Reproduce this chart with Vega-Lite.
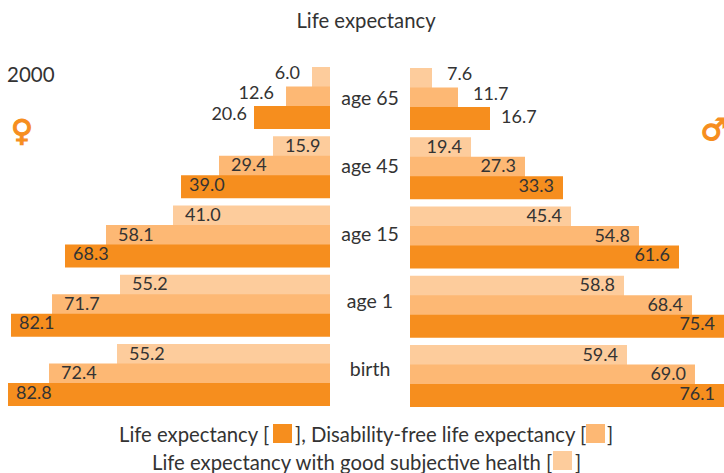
{
"$schema":"https://vega.github.io/schema/vega-lite/v6.json",
"width":724,"height":473,"padding":0,"autosize":"none",
"background":"white",
"title":{"text":"Life expectancy","anchor":"middle","frame":"group","font":"Lato","fontSize":20.3,"fontWeight":"normal","color":"#333333","dy":36,"dx":4},
"config":{"view":{"stroke":null},"text":{"font":"Lato","fontSize":18,"color":"#333333","baseline":"middle"}},
"datasets":{
"rows":[
{"sex":"female","age":"age 65","series":"good health","value":6.0,"drawn":4.63},
{"sex":"female","age":"age 65","series":"disability-free","value":12.6,"drawn":11.31},
{"sex":"female","age":"age 65","series":"life expectancy","value":20.6,"drawn":19.54},
{"sex":"female","age":"age 45","series":"good health","value":15.9,"drawn":14.66},
{"sex":"female","age":"age 45","series":"disability-free","value":29.4,"drawn":28.54},
{"sex":"female","age":"age 45","series":"life expectancy","value":39.0,"drawn":38.31},
{"sex":"female","age":"age 15","series":"good health","value":41.0,"drawn":40.37},
{"sex":"female","age":"age 15","series":"disability-free","value":58.1,"drawn":57.6},
{"sex":"female","age":"age 15","series":"life expectancy","value":68.3,"drawn":68.14},
{"sex":"female","age":"age 1","series":"good health","value":55.2,"drawn":54.0},
{"sex":"female","age":"age 1","series":"disability-free","value":71.7,"drawn":71.48},
{"sex":"female","age":"age 1","series":"life expectancy","value":82.1,"drawn":82.03},
{"sex":"female","age":"birth","series":"good health","value":55.2,"drawn":54.77},
{"sex":"female","age":"birth","series":"disability-free","value":72.4,"drawn":72.25},
{"sex":"female","age":"birth","series":"life expectancy","value":82.8,"drawn":82.8},
{"sex":"male","age":"age 65","series":"good health","value":7.6,"drawn":5.66},
{"sex":"male","age":"age 65","series":"disability-free","value":11.7,"drawn":12.34},
{"sex":"male","age":"age 65","series":"life expectancy","value":16.7,"drawn":20.57},
{"sex":"male","age":"age 45","series":"good health","value":19.4,"drawn":15.69},
{"sex":"male","age":"age 45","series":"disability-free","value":27.3,"drawn":29.57},
{"sex":"male","age":"age 45","series":"life expectancy","value":33.3,"drawn":39.34},
{"sex":"male","age":"age 15","series":"good health","value":45.4,"drawn":41.4},
{"sex":"male","age":"age 15","series":"disability-free","value":54.8,"drawn":58.88},
{"sex":"male","age":"age 15","series":"life expectancy","value":61.6,"drawn":69.17},
{"sex":"male","age":"age 1","series":"good health","value":58.8,"drawn":55.03},
{"sex":"male","age":"age 1","series":"disability-free","value":68.4,"drawn":72.51},
{"sex":"male","age":"age 1","series":"life expectancy","value":75.4,"drawn":80.74},
{"sex":"male","age":"birth","series":"good health","value":59.4,"drawn":55.8},
{"sex":"male","age":"birth","series":"disability-free","value":69.0,"drawn":73.28},
{"sex":"male","age":"birth","series":"life expectancy","value":76.1,"drawn":80.74}
]
},
"resolve":{"scale":{"x":"independent","y":"independent","yOffset":"independent"}},
"layer":[
{"data":{"name":"rows"},"transform":[{"filter":"datum.sex=='female'"}],
 "encoding":{
  "x":{"field":"drawn","type":"quantitative","axis":null,"stack":null,"scale":{"domain":[0,82.8],"range":[330,8],"nice":false,"zero":false}},
  "y":{"field":"age","type":"nominal","axis":null,"scale":{"domain":["age 65","age 45","age 15","age 1","birth"],"range":[67,406],"paddingInner":0.105,"paddingOuter":0}},
  "yOffset":{"field":"series","type":"nominal","scale":{"type":"point","domain":["good health","disability-free","life expectancy"],"padding":0.59}}
 },
 "layer":[
  {"mark":{"type":"bar","height":23},"encoding":{"x2":{"datum":0},
    "color":{"field":"series","type":"nominal","legend":null,"scale":{"domain":["life expectancy","disability-free","good health"],"range":["#F68E1E","#FDB874","#FDCC9C"]}}}},
  {"transform":[{"filter":"datum.age=='age 65' && datum.series!='life expectancy'"}],"mark":{"type":"text","align":"right","dx":-12,"dy":-4},"encoding":{"text":{"field":"value","format":".1f"}}},
  {"transform":[{"filter":"datum.age=='age 65' && datum.series=='life expectancy'"}],"mark":{"type":"text","align":"right","dx":-7,"dy":-2},"encoding":{"text":{"field":"value","format":".1f"}}},
  {"transform":[{"filter":"datum.age!='age 65' && datum.series!='life expectancy'"}],"mark":{"type":"text","align":"left","dx":12,"dy":-1},"encoding":{"text":{"field":"value","format":".1f"}}},
  {"transform":[{"filter":"datum.age!='age 65' && datum.series=='life expectancy'"}],"mark":{"type":"text","align":"left","dx":8,"dy":-1},"encoding":{"text":{"field":"value","format":".1f"}}}
 ]},
{"data":{"name":"rows"},"transform":[{"filter":"datum.sex=='male'"}],
 "encoding":{
  "x":{"field":"drawn","type":"quantitative","axis":null,"stack":null,"scale":{"domain":[0,80.74],"range":[410,724],"nice":false,"zero":false}},
  "y":{"field":"age","type":"nominal","axis":null,"scale":{"domain":["age 65","age 45","age 15","age 1","birth"],"range":[68,407],"paddingInner":0.105,"paddingOuter":0}},
  "yOffset":{"field":"series","type":"nominal","scale":{"type":"point","domain":["good health","disability-free","life expectancy"],"padding":0.59}}
 },
 "layer":[
  {"mark":{"type":"bar","height":23},"encoding":{"x2":{"datum":0},
    "color":{"field":"series","type":"nominal","legend":null}}},
  {"transform":[{"filter":"datum.age=='age 65' && datum.series!='life expectancy'"}],"mark":{"type":"text","align":"left","dx":15,"dy":-4},"encoding":{"text":{"field":"value","format":".1f"}}},
  {"transform":[{"filter":"datum.age=='age 65' && datum.series=='life expectancy'"}],"mark":{"type":"text","align":"left","dx":11,"dy":0},"encoding":{"text":{"field":"value","format":".1f"}}},
  {"transform":[{"filter":"datum.age!='age 65'"}],"mark":{"type":"text","align":"right","dx":-9,"dy":-1},"encoding":{"text":{"field":"value","format":".1f"}}}
 ]},
{"data":{"values":[{"age":"age 65"},{"age":"age 45"},{"age":"age 15"},{"age":"age 1"},{"age":"birth"}]},
 "mark":{"type":"text","align":"center","fontSize":19.5,"dy":-2},
 "encoding":{
  "x":{"datum":0,"axis":null,"scale":{"domain":[-40,40],"range":[330,410]}},
  "y":{"field":"age","type":"nominal","axis":null,"scale":{"domain":["age 65","age 45","age 15","age 1","birth"],"range":[67,406],"paddingInner":0.105,"paddingOuter":0}},
  "text":{"field":"age"}
 }},
{"data":{"values":[{"t":"2000"}]},"mark":{"type":"text","align":"left","fontSize":20.5},
 "encoding":{"x":{"datum":7,"axis":null,"scale":{"domain":[0,724],"range":[0,724]}},"y":{"datum":76,"axis":null,"scale":{"domain":[0,473],"range":[0,473]}},"text":{"field":"t"}}},
{"data":{"values":[{"t":"♀"}]},"mark":{"type":"text","align":"center","font":"DejaVu Sans","fontSize":30,"stroke":"#F68E1E","strokeWidth":1.2,"color":"#F68E1E"},
 "encoding":{"x":{"datum":22,"axis":null,"scale":{"domain":[0,724],"range":[0,724]}},"y":{"datum":132,"axis":null,"scale":{"domain":[0,473],"range":[0,473]}},"text":{"field":"t"}}},
{"data":{"values":[{"t":"♂"}]},"mark":{"type":"text","align":"center","font":"DejaVu Sans","fontSize":30,"stroke":"#F68E1E","strokeWidth":1.2,"color":"#F68E1E"},
 "encoding":{"x":{"datum":714,"axis":null,"scale":{"domain":[0,724],"range":[0,724]}},"y":{"datum":131,"axis":null,"scale":{"domain":[0,473],"range":[0,473]}},"text":{"field":"t"}}},
{"data":{"values":[{"t":"Life expectancy ["}]},"mark":{"type":"text","align":"left","fontSize":20.3},
 "encoding":{"x":{"datum":119,"axis":null,"scale":{"domain":[0,724],"range":[0,724]}},"y":{"datum":436,"axis":null,"scale":{"domain":[0,473],"range":[0,473]}},"text":{"field":"t"}}},
{"data":{"values":[{"t":"], Disability-free life expectancy ["}]},"mark":{"type":"text","align":"left","fontSize":20.3},
 "encoding":{"x":{"datum":295,"axis":null,"scale":{"domain":[0,724],"range":[0,724]}},"y":{"datum":436,"axis":null,"scale":{"domain":[0,473],"range":[0,473]}},"text":{"field":"t"}}},
{"data":{"values":[{"t":"]"}]},"mark":{"type":"text","align":"left","fontSize":20.3},
 "encoding":{"x":{"datum":607,"axis":null,"scale":{"domain":[0,724],"range":[0,724]}},"y":{"datum":436,"axis":null,"scale":{"domain":[0,473],"range":[0,473]}},"text":{"field":"t"}}},
{"data":{"values":[{"t":"Life expectancy with good subjective health ["}]},"mark":{"type":"text","align":"left","fontSize":20.3},
 "encoding":{"x":{"datum":152,"axis":null,"scale":{"domain":[0,724],"range":[0,724]}},"y":{"datum":464,"axis":null,"scale":{"domain":[0,473],"range":[0,473]}},"text":{"field":"t"}}},
{"data":{"values":[{"t":"]"}]},"mark":{"type":"text","align":"left","fontSize":20.3},
 "encoding":{"x":{"datum":575,"axis":null,"scale":{"domain":[0,724],"range":[0,724]}},"y":{"datum":464,"axis":null,"scale":{"domain":[0,473],"range":[0,473]}},"text":{"field":"t"}}},
{"data":{"values":[{"series":"life expectancy"}]},"mark":{"type":"square","size":361,"opacity":1,"filled":true},
 "encoding":{"x":{"datum":282.5,"axis":null,"scale":{"domain":[0,724],"range":[0,724]}},"y":{"datum":433.5,"axis":null,"scale":{"domain":[0,473],"range":[0,473]}},"color":{"field":"series","type":"nominal","legend":null}}},
{"data":{"values":[{"series":"disability-free"}]},"mark":{"type":"square","size":361,"opacity":1,"filled":true},
 "encoding":{"x":{"datum":595.5,"axis":null,"scale":{"domain":[0,724],"range":[0,724]}},"y":{"datum":433.5,"axis":null,"scale":{"domain":[0,473],"range":[0,473]}},"color":{"field":"series","type":"nominal","legend":null}}},
{"data":{"values":[{"series":"good health"}]},"mark":{"type":"square","size":361,"opacity":1,"filled":true},
 "encoding":{"x":{"datum":562.5,"axis":null,"scale":{"domain":[0,724],"range":[0,724]}},"y":{"datum":460.5,"axis":null,"scale":{"domain":[0,473],"range":[0,473]}},"color":{"field":"series","type":"nominal","legend":null}}}
]
}
